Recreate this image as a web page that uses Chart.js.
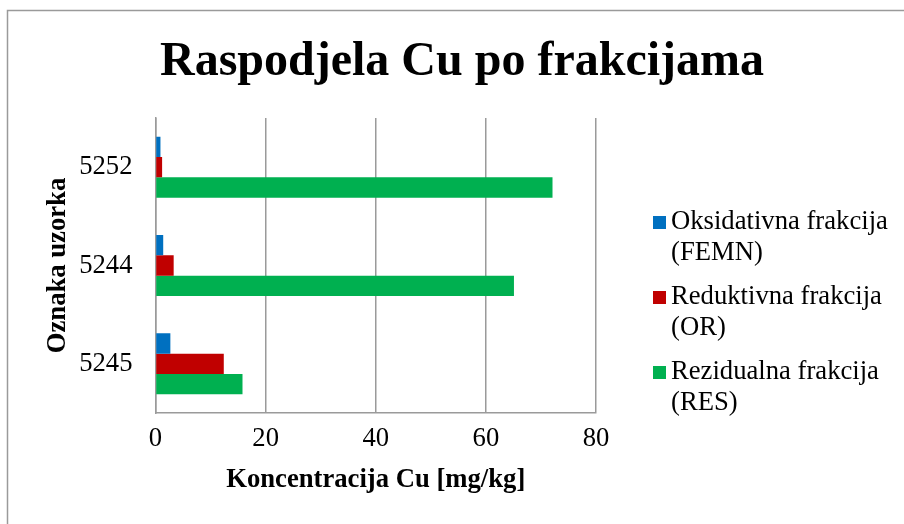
<!DOCTYPE html>
<html lang="hr">
<head>
    <meta charset="UTF-8">
    <title>Raspodjela Cu po frakcijama</title>
    <script src="https://cdn.jsdelivr.net/npm/chart.js@4"></script>
    <style>
        html, body { margin: 0; padding: 0; background: #fff; }
        #chart-container { position: relative; width: 904px; height: 524px; }
    </style>
</head>
<body>

<div id="chart-container">
    <canvas id="cuChart"></canvas>
</div>

<script>
    // podaci očitani s grafa
    const uzorci = ['5252', '5244', '5245'];
    const oksidativna = [0.9, 1.4, 2.7];   // FEMN
    const reduktivna = [1.2, 3.3, 12.4];   // OR
    const rezidualna = [72.1, 65.1, 15.8]; // RES
    const xTicks = [0, 20, 40, 60, 80];
    const nazivi = [
        ['Oksidativna frakcija', '(FEMN)'],
        ['Reduktivna frakcija', '(OR)'],
        ['Rezidualna frakcija', '(RES)']
    ];
    const boje = ['#0070c0', '#c00000', '#00b050'];

    const serif = "'Liberation Serif', 'Times New Roman', serif";
    const siva = '#9a9a9a';
    const vel = 26.67; // 20pt

    // okvir, naslov i legenda (legenda ima tekst u dva reda)
    const dekor = {
        id: 'dekor',
        beforeDraw(chart) {
            const c = chart.ctx;
            c.save();
            c.fillStyle = '#fff';
            c.fillRect(0, 0, chart.width, chart.height);
            c.strokeStyle = siva;
            c.lineWidth = 1.5;
            c.beginPath();
            c.moveTo(7.5, chart.height);
            c.lineTo(7.5, 10.5);
            c.lineTo(chart.width, 10.5);
            c.stroke();
            c.restore();
        },
        afterDraw(chart) {
            const c = chart.ctx;
            c.save();
            c.fillStyle = '#000';
            c.font = 'bold 48px ' + serif;
            c.textAlign = 'center';
            c.textBaseline = 'alphabetic';
            c.fillText('Raspodjela Cu po frakcijama', 462, 75);

            c.font = vel + 'px ' + serif;
            c.textAlign = 'left';
            c.textBaseline = 'middle';
            chart.data.datasets.forEach((ds, i) => {
                const y0 = 222 + i * 75;
                c.fillStyle = ds.backgroundColor;
                c.fillRect(653, y0 - 6, 13, 13);
                c.fillStyle = '#000';
                nazivi[i].forEach((red, j) => c.fillText(red, 671, y0 + j * 31));
            });
            c.restore();
        }
    };

    new Chart(document.getElementById('cuChart'), {
        type: 'bar',
        data: {
            labels: uzorci,
            datasets: [
                { label: nazivi[0].join(' '), data: oksidativna, backgroundColor: boje[0] },
                { label: nazivi[1].join(' '), data: reduktivna, backgroundColor: boje[1] },
                { label: nazivi[2].join(' '), data: rezidualna, backgroundColor: boje[2] }
            ]
        },
        options: {
            indexAxis: 'y',
            responsive: true,
            maintainAspectRatio: false,
            animation: false,
            categoryPercentage: 0.62,
            barPercentage: 1,
            layout: { padding: { top: 118, left: 40, right: 308, bottom: 26 } },
            plugins: {
                legend: { display: false },
                title: { display: false },
                tooltip: { enabled: false }
            },
            scales: {
                x: {
                    min: 0,
                    max: 80,
                    afterBuildTicks: (s) => { s.ticks = xTicks.map(v => ({ value: v })); },
                    afterFit: (s) => { s.height = 85; },
                    grid: { color: siva, lineWidth: 1.5, drawTicks: false },
                    border: { display: true, color: siva, width: 1.5 },
                    ticks: { color: '#000', padding: 10, font: { family: serif, size: vel } },
                    title: {
                        display: true,
                        text: 'Koncentracija Cu [mg/kg]',
                        color: '#000',
                        padding: { top: 0, bottom: 2 },
                        font: { family: serif, size: vel, weight: 'bold' }
                    }
                },
                y: {
                    afterFit: (s) => { s.width = 115.5; },
                    grid: { display: false, drawTicks: false },
                    border: { display: true, color: siva, width: 1.5 },
                    ticks: { color: '#000', padding: 23, font: { family: serif, size: vel } },
                    title: {
                        display: true,
                        text: 'Oznaka uzorka',
                        color: '#000',
                        padding: { top: 2, bottom: 0 },
                        font: { family: serif, size: vel, weight: 'bold' }
                    }
                }
            }
        },
        plugins: [dekor]
    });
</script>

</body>
</html>
